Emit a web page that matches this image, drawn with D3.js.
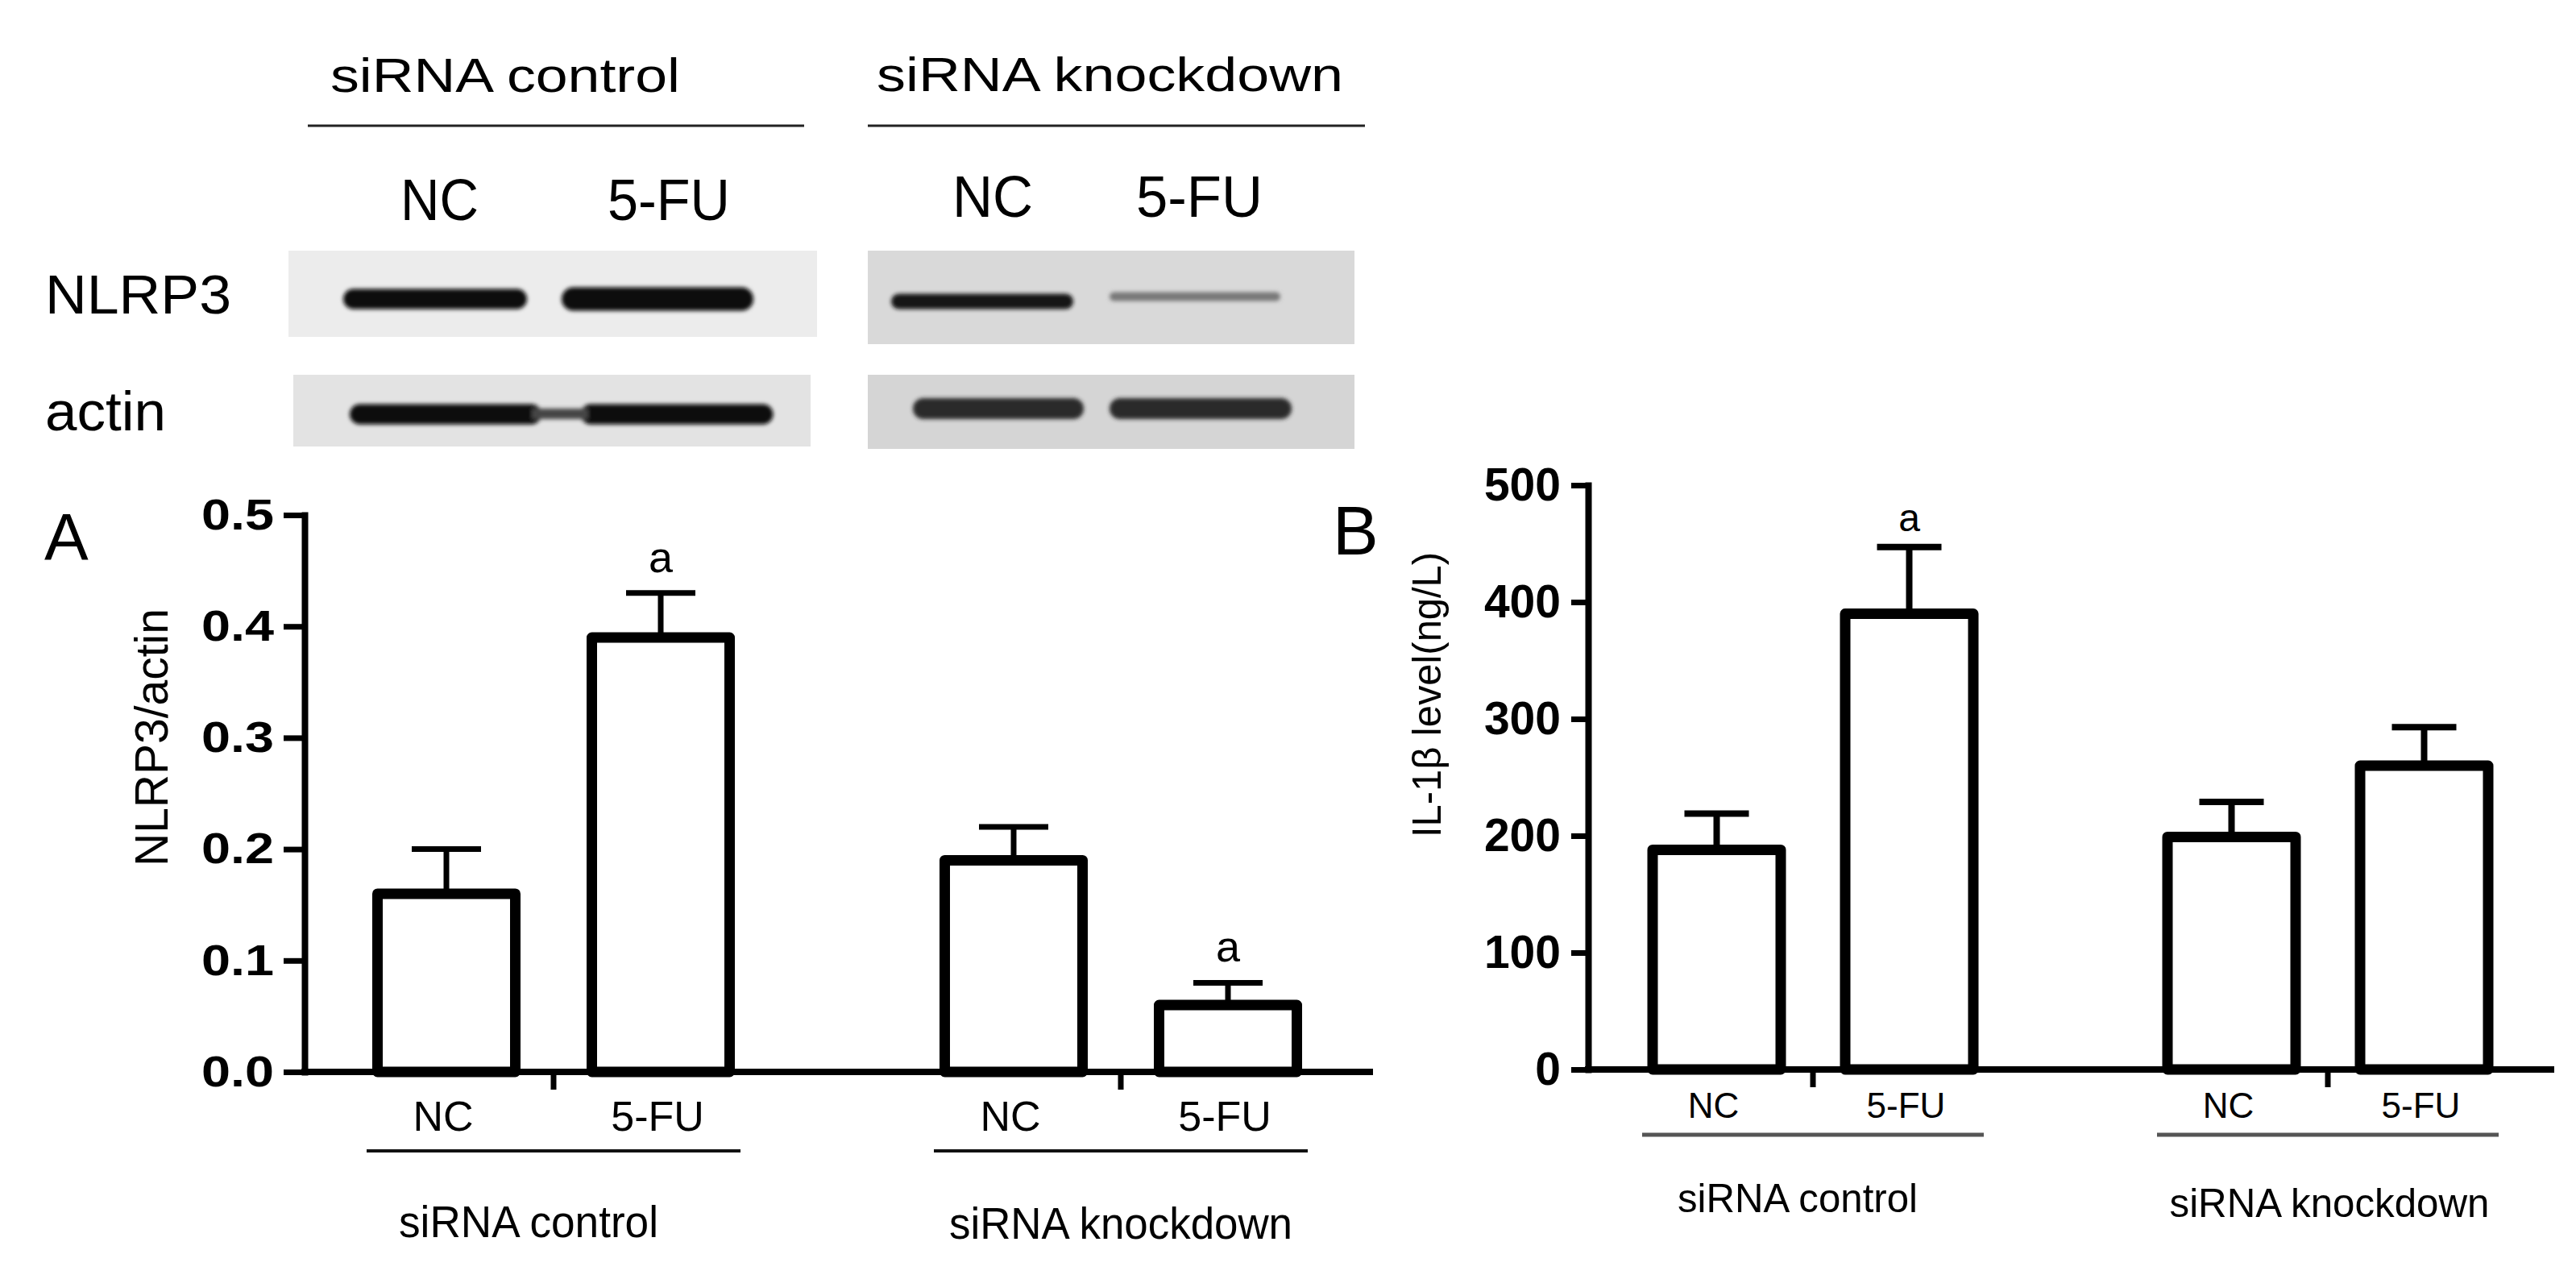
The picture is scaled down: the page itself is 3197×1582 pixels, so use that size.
<!DOCTYPE html>
<html>
<head>
<meta charset="utf-8">
<script src="https://cdn.jsdelivr.net/npm/d3@7/dist/d3.min.js"></script>
<style>
  html, body { margin: 0; padding: 0; background: #fff; }
  svg { display: block; font-family: "Liberation Sans", Arial, Helvetica, sans-serif; }
</style>
</head>
<body>
<svg id="fig" width="3197" height="1582"></svg>
<script>
// ---------------- data ----------------
const groups = ["siRNA control", "siRNA knockdown"];
const treatments = ["NC", "5-FU"];

// Panel A: NLRP3/actin ratio (mean, SEM) in order ctrl-NC, ctrl-5FU, kd-NC, kd-5FU
const nlrp3Mean = [0.16, 0.39, 0.19, 0.06];
const nlrp3Err  = [0.04, 0.04, 0.03, 0.02];
const nlrp3Sig  = ["", "a", "", "a"];
const ticksA    = [0, 0.1, 0.2, 0.3, 0.4, 0.5];

// Panel B: IL-1β level (ng/L)
const il1bMean = [188, 390, 199, 260];
const il1bErr  = [31, 57, 30, 33];
const il1bSig  = ["", "a", "", ""];
const ticksB   = [0, 100, 200, 300, 400, 500];

// Western blot band intensities (relative darkness, 0..1) per lane
const blotNLRP3 = [1.0, 1.0, 0.95, 0.45];
const blotActin = [1.0, 1.0, 0.85, 0.85];

// ---------------- helpers ----------------
const svg = d3.select("#fig");
svg.append("rect").attr("width", 3197).attr("height", 1582).attr("fill", "#fff");

const defs = svg.append("defs");
defs.append("filter").attr("id", "blur").attr("x", "-10%").attr("y", "-60%").attr("width", "120%").attr("height", "220%")
  .append("feGaussianBlur").attr("stdDeviation", 2.8);

function txt(g, s, x, y, size, opts = {}) {
  const t = g.append("text").attr("x", x).attr("y", y).attr("font-size", size)
    .attr("fill", "#000").text(s);
  if (opts.anchor) t.attr("text-anchor", opts.anchor);
  if (opts.weight) t.attr("font-weight", opts.weight);
  if (opts.len) t.attr("textLength", opts.len).attr("lengthAdjust", "spacingAndGlyphs");
  if (opts.rotate) t.attr("transform", `rotate(-90,${x},${y})`);
  return t;
}

// ---------------- blot section ----------------
const blot = svg.append("g");
txt(blot, "siRNA control", 410, 114, 60, {len: 434});
txt(blot, "siRNA knockdown", 1088, 113, 60, {len: 579});
blot.append("line").attr("x1", 382).attr("x2", 998).attr("y1", 156).attr("y2", 156).attr("stroke", "#222").attr("stroke-width", 3);
blot.append("line").attr("x1", 1077).attr("x2", 1694).attr("y1", 156).attr("y2", 156).attr("stroke", "#222").attr("stroke-width", 3);
txt(blot, "NC", 497, 273, 72, {len: 97});
txt(blot, "5-FU", 754, 273, 72, {len: 152});
txt(blot, "NC", 1182, 269, 72, {len: 100});
txt(blot, "5-FU", 1410, 269, 72, {len: 157});
txt(blot, "NLRP3", 56, 389, 68, {len: 231});
txt(blot, "actin", 56, 534, 68, {len: 150});

const panels = [
  {x: 358, y: 311, w: 656, h: 107, fill: "#ececec"},
  {x: 1077, y: 311, w: 604, h: 116, fill: "#d9d9d9"},
  {x: 364, y: 465, w: 642, h: 89, fill: "#e3e3e3"},
  {x: 1077, y: 465, w: 604, h: 92, fill: "#d5d5d5"}
];
blot.selectAll("rect.panel").data(panels).join("rect").attr("class", "panel")
  .attr("x", d => d.x).attr("y", d => d.y).attr("width", d => d.w).attr("height", d => d.h).attr("fill", d => d.fill);

const lanesX = [[540, 228], [816, 238], [1219, 226], [1483, 212]];
const actinX = [[553, 238], [840, 239], [1239, 212], [1490, 226]];
const nlrpY = [[371, 25], [371, 29], [374, 19], [368, 11]];
const actY  = [[514, 25], [514, 25], [507, 26], [507, 26]];
const bandG = blot.append("g").attr("filter", "url(#blur)");
blotNLRP3.forEach((v, i) => {
  const [cx, w] = lanesX[i], [cy, h] = nlrpY[i];
  bandG.append("rect").attr("x", cx - w / 2).attr("y", cy - h / 2).attr("width", w).attr("height", h)
    .attr("rx", h / 2).attr("fill", d3.interpolateRgb("#d0d0d0", "#0c0c0c")(v));
});
blotActin.forEach((v, i) => {
  const [cx, w] = actinX[i], [cy, h] = actY[i];
  bandG.append("rect").attr("x", cx - w / 2).attr("y", cy - h / 2).attr("width", w).attr("height", h)
    .attr("rx", h / 2).attr("fill", d3.interpolateRgb("#d0d0d0", "#0c0c0c")(v));
});
// connecting smear between actin control lanes
bandG.append("rect").attr("x", 660).attr("y", 507).attr("width", 70).attr("height", 13).attr("fill", "#444");

// ---------------- bar chart builder ----------------
function barChart(cfg) {
  const g = svg.append("g");
  const y = d3.scaleLinear().domain([0, cfg.ymax]).range([cfg.y0, cfg.y1]);
  const gx = d3.scaleBand().domain(groups).range(cfg.groupRange);
  const ix = d3.scalePoint().domain(treatments).range([-cfg.inner, cfg.inner]);
  const rows = [];
  groups.forEach((gr, gi) => treatments.forEach((t, ti) => {
    const k = gi * 2 + ti;
    rows.push({g: gr, t, v: cfg.mean[k], e: cfg.err[k], s: cfg.sig[k],
      cx: gx(gr) + gx.bandwidth() / 2 + ix(t)});
  }));

  // y axis
  const ax = g.append("g").attr("transform", `translate(${cfg.axisX},0)`)
    .call(d3.axisLeft(y).tickValues(cfg.ticks).tickFormat(cfg.fmt).tickSize(cfg.tickLen).tickSizeOuter(0).tickPadding(cfg.pad));
  ax.select(".domain").attr("stroke", "#000").attr("stroke-width", 8).attr("stroke-linecap", "square");
  ax.selectAll(".tick line").attr("stroke", "#000").attr("stroke-width", 7);
  ax.selectAll(".tick text").attr("fill", "#000").attr("font-size", cfg.tickFont).attr("font-weight", "bold")
    .attr("font-family", '"Liberation Sans", Arial, sans-serif')
    .attr("dy", "0.32em")
    .attr("textLength", function () { return cfg.charW * this.textContent.length; })
    .attr("lengthAdjust", "spacingAndGlyphs");

  // x axis line
  g.append("line").attr("x1", cfg.axisX - 4).attr("x2", cfg.xEnd).attr("y1", y(0)).attr("y2", y(0))
    .attr("stroke", "#000").attr("stroke-width", 8);
  // group ticks
  groups.forEach(gr => {
    const c = gx(gr) + gx.bandwidth() / 2;
    g.append("line").attr("x1", c).attr("x2", c).attr("y1", y(0)).attr("y2", y(0) + 22)
      .attr("stroke", "#000").attr("stroke-width", 7);
  });

  // error bars
  const eb = g.selectAll("g.err").data(rows).join("g").attr("class", "err");
  eb.append("line").attr("x1", d => d.cx).attr("x2", d => d.cx).attr("y1", d => y(d.v)).attr("y2", d => y(d.v + d.e))
    .attr("stroke", "#000").attr("stroke-width", cfg.errW);
  eb.append("line").attr("x1", d => d.cx - cfg.capW / 2).attr("x2", d => d.cx + cfg.capW / 2)
    .attr("y1", d => y(d.v + d.e)).attr("y2", d => y(d.v + d.e))
    .attr("stroke", "#000").attr("stroke-width", cfg.errW);

  // bars
  g.selectAll("rect.bar").data(rows).join("rect").attr("class", "bar")
    .attr("x", d => d.cx - cfg.barW / 2).attr("width", cfg.barW)
    .attr("y", d => y(d.v)).attr("height", d => y(0) - y(d.v))
    .attr("fill", "#fff").attr("stroke", "#000").attr("stroke-width", 13).attr("stroke-linejoin", "round");

  // significance letters
  g.selectAll("text.sig").data(rows.filter(d => d.s)).join("text").attr("class", "sig")
    .attr("x", d => d.cx).attr("y", d => y(d.v + d.e) - cfg.sigGap).attr("text-anchor", "middle")
    .attr("font-size", cfg.sigFont).attr("fill", "#000").text(d => d.s);

  // category labels
  g.selectAll("text.cat").data(rows).join("text").attr("class", "cat")
    .attr("x", d => d.cx - 4).attr("y", cfg.catY).attr("text-anchor", "middle")
    .attr("font-size", cfg.catFont).attr("fill", "#000").text(d => d.t);

  // group lines + labels
  groups.forEach((gr, gi) => {
    const c = gx(gr) + gx.bandwidth() / 2;
    g.append("line").attr("x1", c - cfg.lineHalf).attr("x2", c + cfg.lineHalf)
      .attr("y1", cfg.lineY).attr("y2", cfg.lineY).attr("stroke", cfg.lineColor).attr("stroke-width", cfg.lineW);
    txt(g, gr, c + cfg.labelDx[gi], cfg.labelY[gi], cfg.labelFont, {anchor: "middle", len: cfg.labelLen[gi]});
  });

  // axis title and panel letter
  txt(g, cfg.title, cfg.titleX, cfg.titleY, cfg.titleFont, {anchor: "middle", rotate: true, len: cfg.titleLen});
  txt(g, cfg.letter, cfg.letterX, cfg.letterY, cfg.letterFont);
}

barChart({
  mean: nlrp3Mean, err: nlrp3Err, sig: nlrp3Sig, ticks: ticksA, ymax: 0.5,
  fmt: d3.format(".1f"), y0: 1330, y1: 639, axisX: 378, xEnd: 1704,
  groupRange: [335, 1743], inner: 133, barW: 171, capW: 86, errW: 7,
  tickLen: 26, pad: 12, tickFont: 54, charW: 30,
  sigGap: 26, sigFont: 54, catY: 1403, catFont: 52,
  lineY: 1428, lineHalf: 232, lineW: 4, lineColor: "#111",
  labelDx: [-31, 0], labelY: [1535, 1537], labelFont: 56, labelLen: [322, 426],
  title: "NLRP3/actin", titleX: 208, titleY: 915, titleFont: 58, titleLen: 320,
  letter: "A", letterX: 55, letterY: 694, letterFont: 82
});

barChart({
  mean: il1bMean, err: il1bErr, sig: il1bSig, ticks: ticksB, ymax: 500,
  fmt: d3.format("d"), y0: 1327, y1: 602, axisX: 1971, xEnd: 3170,
  groupRange: [1930.5, 3208.5], inner: 119.5, barW: 159, capW: 80, errW: 8,
  tickLen: 21, pad: 13, tickFont: 57, charW: 31.7,
  sigGap: 20, sigFont: 48, catY: 1387, catFont: 44,
  lineY: 1408, lineHalf: 212, lineW: 5, lineColor: "#555",
  labelDx: [-19, 2], labelY: [1504, 1510], labelFont: 50, labelLen: [298, 397],
  title: "IL-1β level(ng/L)", titleX: 1788, titleY: 862, titleFont: 50, titleLen: 354,
  letter: "B", letterX: 1654, letterY: 688, letterFont: 85
});
</script>
</body>
</html>
